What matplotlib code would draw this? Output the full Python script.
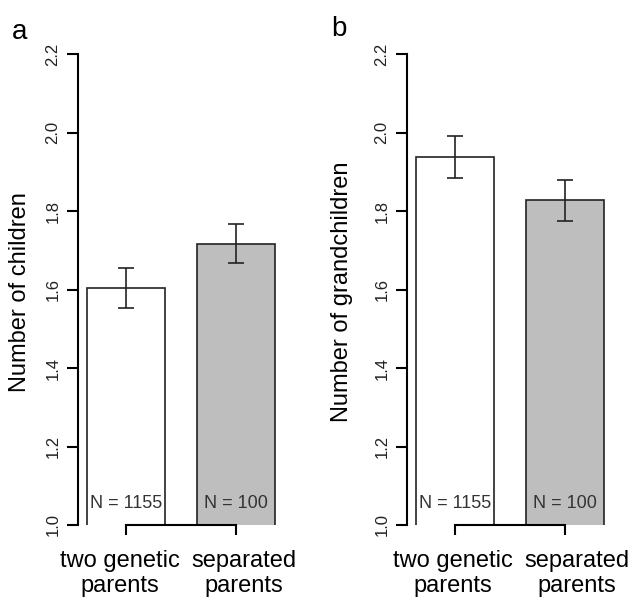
import matplotlib
matplotlib.use("Agg")
import matplotlib.pyplot as plt

plt.rcParams['font.family'] = ['Liberation Sans', 'DejaVu Sans']

groups = ["two genetic\nparents", "separated\nparents"]
sample_sizes = ["N = 1155", "N = 100"]
bar_colors = ["white", "#bebebe"]

children_mean = [1.603, 1.717]
children_err = [0.051, 0.049]
grandchildren_mean = [1.937, 1.827]
grandchildren_err = [0.053, 0.052]

yticks = [1.0, 1.2, 1.4, 1.6, 1.8, 2.0, 2.2]

panels = [
    ("a", "Number of children", children_mean, children_err, [-0.077, 1.51]),
    ("b", "Number of grandchildren", grandchildren_mean, grandchildren_err, [-0.03, 1.56]),
]

W, H = 633, 600
fig = plt.figure(figsize=(W / 100, H / 100), dpi=100)

xpos = [0, 1.41]
axes_left = [78.4, 407.4]
ylabel_x = [20, 342]
letter_xy = [(20, 32), (339, 29)]

for i, (letter, ylab, means, errs, lab_pos) in enumerate(panels):
    ax = fig.add_axes([axes_left[i] / W, 75 / H, 203.6 / W, 471 / H])
    ax.bar(xpos, means, width=1.0, color=bar_colors, edgecolor="#222222",
           linewidth=1.2)
    ax.errorbar(xpos, means, yerr=errs, fmt="none", ecolor="#222222",
                elinewidth=1.2, capsize=6, capthick=1.2)
    for x, n in zip(xpos, sample_sizes):
        ax.text(x, 1.056, n, ha="center", va="center", fontsize=13,
                color="#333333")

    ax.set_xlim(-0.61, 2.0)
    ax.set_ylim(1.0, 2.2)
    ax.set_yticks(yticks)
    ax.set_yticklabels([f"{t:.1f}" for t in yticks])
    ax.tick_params(axis="y", length=8, width=1.5, labelsize=12,
                   labelrotation=90, pad=5, labelcolor="#222222")
    for lbl in ax.get_yticklabels():
        lbl.set_va("center")

    ax.set_xticks(xpos)
    ax.set_xticklabels(["", ""])
    ax.tick_params(axis="x", which="major", length=7, width=1.5)
    ax.set_xticks(lab_pos, minor=True)
    ax.set_xticklabels(groups, minor=True, fontsize=17)
    ax.tick_params(axis="x", which="minor", length=0, pad=18)

    for s in ["top", "right"]:
        ax.spines[s].set_visible(False)
    ax.spines["left"].set_bounds(1.0, 2.2)
    ax.spines["bottom"].set_bounds(xpos[0], xpos[1])
    ax.spines["left"].set_linewidth(1.5)
    ax.spines["bottom"].set_linewidth(1.5)

    fig.text(ylabel_x[i] / W, 1 - 292 / H, ylab, rotation=90, ha="center",
             va="center", fontsize=17)
    fig.text(letter_xy[i][0] / W, 1 - letter_xy[i][1] / H, letter,
             ha="center", va="center", fontsize=20)

fig.savefig("out.png", dpi=100)
